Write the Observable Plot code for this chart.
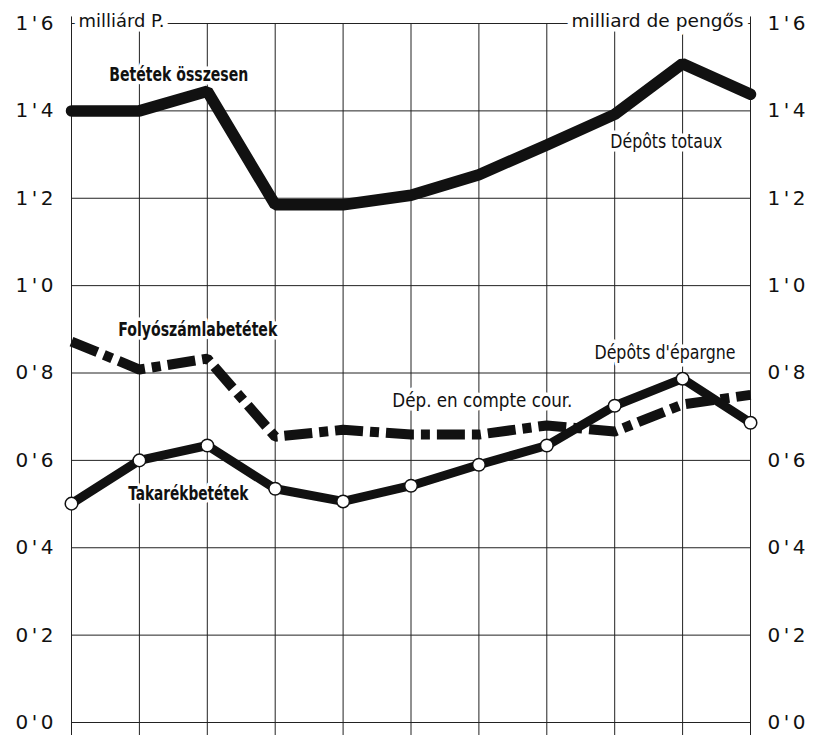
<!DOCTYPE html>
<html>
<head>
<meta charset="utf-8">
<script src="https://cdn.jsdelivr.net/npm/d3@7"></script>
<script src="https://cdn.jsdelivr.net/npm/@observablehq/plot@0.6"></script>
<style>
  html, body { margin: 0; padding: 0; background: #fff; }
  #chart svg { display: block; }
</style>
</head>
<body>
<div id="chart"></div>
<script>
// Periods (11 equally spaced observations; the original has no x labels)
const periods = [0, 1, 2, 3, 4, 5, 6, 7, 8, 9, 10];

// Deposits in milliard pengős
const totalDeposits   = [1.40, 1.40, 1.445, 1.185, 1.185, 1.207, 1.254, 1.322, 1.392, 1.508, 1.438];
const currentAccounts = [0.872, 0.808, 0.833, 0.654, 0.670, 0.659, 0.659, 0.680, 0.666, 0.728, 0.750];
const savingsDeposits = [0.501, 0.600, 0.634, 0.535, 0.506, 0.542, 0.590, 0.634, 0.725, 0.787, 0.686];

const yTicks = [0, 0.2, 0.4, 0.6, 0.8, 1.0, 1.2, 1.4, 1.6];

// Series labels (Hungarian in bold, French in regular)
const boldTexts = ["Betétek összesen", "Folyószámlabetétek", "Takarékbetétek"];
const boldX     = [1.58, 1.86, 1.72];
const boldY     = [1.482, 0.899, 0.524];
const plainTexts = ["Dépôts totaux", "Dép. en compte cour.", "Dépôts d'épargne"];
const plainX     = [8.76, 6.05, 8.74];
const plainY     = [1.330, 0.735, 0.845];

const unitLeft = "milliárd P.";
const unitRight = "milliard de pengős";

const rows = (vals) => periods.map((p, i) => ({x: p, y: vals[i]}));
const lab = (t, xs, ys) => t.map((s, i) => ({text: s, x: xs[i], y: ys[i]}));

const fmt = d => d.toFixed(1).replace(".", "'");
const labelFont = "'DejaVu Sans Condensed', 'DejaVu Sans', sans-serif";

// rendered widths (px) that mimic the narrow lettering of the original
const textWidths = new Map([
  ["Betétek összesen", 139], ["Folyószámlabetétek", 159], ["Takarékbetétek", 120],
  ["Dépôts totaux", 112], ["Dép. en compte cour.", 180], ["Dépôts d'épargne", 141],
  ["milliárd P.", 86], ["milliard de pengős", 172]
]);

const chart = Plot.plot({
  width: 824,
  height: 735,
  marginLeft: 71,
  marginRight: 74,
  marginTop: 23,
  marginBottom: 13,
  x: {domain: [0, 10], axis: null},
  y: {domain: [0, 1.6], axis: null},
  style: {background: "#fff"},
  marks: [
    // horizontal grid
    Plot.ruleY(yTicks, {x1: 0, x2: 10, stroke: "#222", strokeWidth: 1}),
    // vertical grid (extending slightly below the zero line)
    Plot.ruleX(periods, {y1: -0.03, y2: 1.6, stroke: "#222", strokeWidth: 1}),
    Plot.ruleX([0, 10], {y1: 1.6, y2: 1.615, stroke: "#222", strokeWidth: 1}),
    // axes
    Plot.axisY(yTicks, {anchor: "left", label: null, tickSize: 0, tickPadding: 18, tickFormat: fmt,
      fontSize: 20, fontFamily: "'DejaVu Sans', sans-serif", fill: "#111", className: "ticklab"}),
    Plot.axisY(yTicks, {anchor: "right", label: null, tickSize: 0, tickPadding: 17, tickFormat: fmt,
      fontSize: 20, fontFamily: "'DejaVu Sans', sans-serif", fill: "#111", className: "ticklab"}),
    // unit labels
    Plot.text([unitLeft], {x: 0, y: 1.6, dx: 7, dy: -2, textAnchor: "start", lineAnchor: "middle",
      fontSize: 17, fontFamily: labelFont, fill: "#111",
      stroke: "white", strokeWidth: 9, paintOrder: "stroke"}),
    Plot.text([unitRight], {x: 10, y: 1.6, dx: -7, dy: -2, textAnchor: "end", lineAnchor: "middle",
      fontSize: 17, fontFamily: labelFont, fill: "#111",
      stroke: "white", strokeWidth: 9, paintOrder: "stroke"}),
    // series labels
    Plot.text(lab(boldTexts, boldX, boldY), {x: "x", y: "y", text: "text", lineAnchor: "middle",
      fontSize: 20, fontFamily: labelFont, fontWeight: "bold",
      fill: "#111", stroke: "white", strokeWidth: 7, paintOrder: "stroke"}),
    Plot.text(lab(plainTexts, plainX, plainY), {x: "x", y: "y", text: "text", lineAnchor: "middle",
      fontSize: 19, fontFamily: labelFont,
      fill: "#111", stroke: "white", strokeWidth: 7, paintOrder: "stroke"}),
    // data lines
    Plot.line(rows(currentAccounts), {x: "x", y: "y", stroke: "#111", strokeWidth: 10,
      strokeDasharray: "28,7,9,7", strokeLinecap: "butt", strokeLinejoin: "miter"}),
    Plot.line(rows(totalDeposits), {x: "x", y: "y", stroke: "#111", strokeWidth: 11.5,
      strokeLinejoin: "miter"}),
    Plot.line(rows(savingsDeposits), {x: "x", y: "y", stroke: "#111", strokeWidth: 9,
      strokeLinejoin: "round"}),
    Plot.dot(rows(savingsDeposits), {x: "x", y: "y", r: 6.3, fill: "white", stroke: "#111", strokeWidth: 1.5})
  ]
});

// narrow the lettering to the original widths; widen the spacing of tick labels
d3.select(chart).selectAll("text").each(function() {
  const t = this.textContent;
  if (textWidths.has(t)) {
    this.setAttribute("textLength", textWidths.get(t));
    this.setAttribute("lengthAdjust", "spacingAndGlyphs");
  }
});
d3.select(chart).selectAll(".ticklab text").each(function() {
  this.setAttribute("textLength", 38);
  this.setAttribute("lengthAdjust", "spacing");
});

document.getElementById("chart").appendChild(chart);
</script>
</body>
</html>
